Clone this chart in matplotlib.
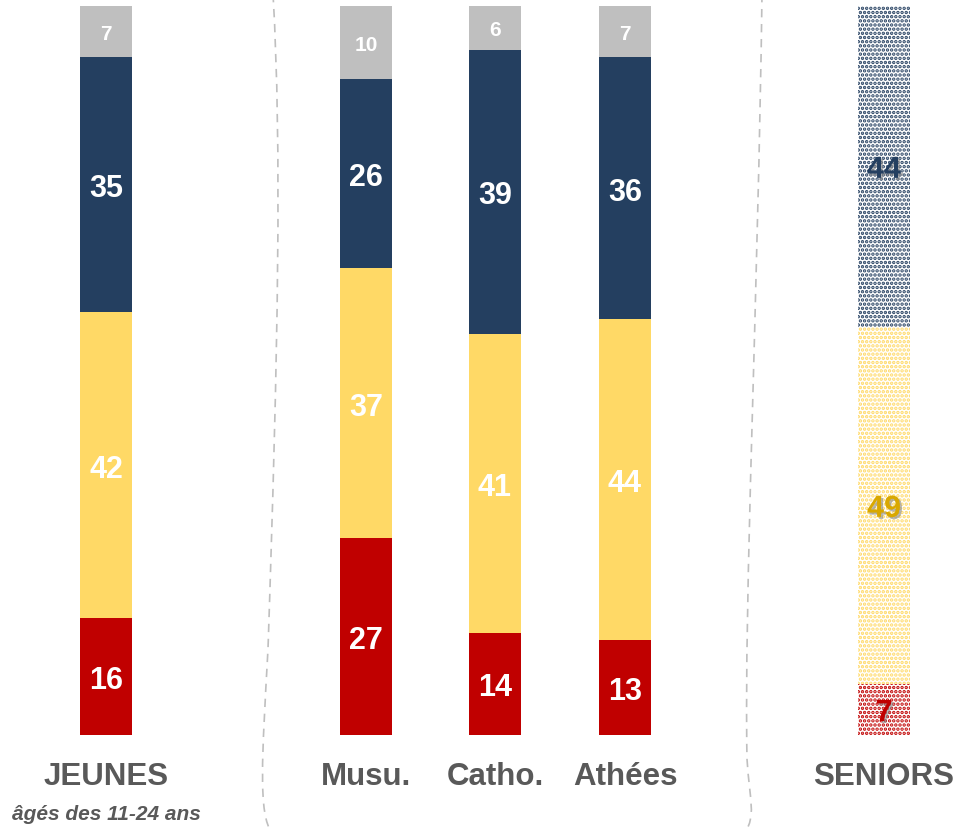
"""
Stacked 100% bars: young people by religion vs seniors.
"""

import matplotlib.pyplot as plt
import matplotlib.patheffects as pe
from matplotlib.path import Path
from matplotlib.patches import PathPatch

plt.rcParams["font.family"] = ["Liberation Sans", "DejaVu Sans"]
plt.rcParams["hatch.linewidth"] = 1.7

RED = "#C00000"
YELLOW = "#FFD966"
NAVY = "#243F60"
GREY = "#BFBFBF"
LABEL = "#595959"

groups = ["JEUNES", "Musu.", "Catho.", "Athées", "SENIORS"]
# segments from bottom to top
red_vals = [16, 27, 14, 13, 7]
yellow_vals = [42, 37, 41, 44, 49]
navy_vals = [35, 26, 39, 36, 44]
grey_vals = [7, 10, 6, 7, 0]

subtitle = "âgés des 11-24 ans"

W, H = 974, 829
fig = plt.figure(figsize=(W / 100, H / 100), dpi=100)
ax = fig.add_axes([0, 93 / H, 1, 729 / H])
ax.set_xlim(0, W)
ax.set_ylim(0, 100)
ax.axis("off")

xpos = [106, 366, 495, 625, 884]
width = 52
px = 7.29  # pixels per percent

series = [
    (red_vals, RED, "white", 22, "#C00000"),
    (yellow_vals, YELLOW, "white", 22, "#D9A800"),
    (navy_vals, NAVY, "white", 22, NAVY),
    (grey_vals, GREY, "white", 15, GREY),
]

for i, (x, name) in enumerate(zip(xpos, groups)):
    bottom = 0
    seniors = name == "SENIORS"
    for vals, color, tcol, fs, scol in series:
        v = vals[i]
        if v == 0:
            continue
        if seniors:
            ax.bar(x, v, width, bottom=bottom, color="white", edgecolor=color,
                   linewidth=0, hatch="....")
            ax.text(x, bottom + v / 2, str(v), ha="center", va="center_baseline",
                    fontsize=fs, fontweight="bold", color=scol,
                    path_effects=[pe.withSimplePatchShadow(offset=(1.5, -1.5),
                                                           shadow_rgbFace="#888888",
                                                           alpha=0.6)])
        else:
            ax.bar(x, v, width, bottom=bottom, color=color, linewidth=0)
            ax.text(x, bottom + v / 2, str(v), ha="center", va="center_baseline",
                    fontsize=fs, fontweight="bold", color=tcol)
        bottom += v
    ax.text(x, -41 / px, name, ha="center", va="center", fontsize=22.5,
            fontweight="bold", color=LABEL, clip_on=False)

ax.text(xpos[0], -79 / px, subtitle, ha="center", va="center", fontsize=15,
        fontweight="bold", fontstyle="italic", color=LABEL, clip_on=False)


# dashed bracket around the religion group (pixel coords from top-left)
def fig_pts(pts):
    return [(x / W, 1 - y / H) for x, y in pts]


C4 = Path.CURVE4
left = fig_pts([(273, -5), (282, 150), (278, 350), (268, 650),
                (262, 760), (258, 815), (272, 834)])
right = fig_pts([(762, -5), (758, 300), (744, 600), (747, 760),
                 (750, 805), (756, 815), (745, 834)])
codes = [Path.MOVETO, C4, C4, C4, C4, C4, C4]
for pts in (left, right):
    fig.add_artist(PathPatch(Path(pts, codes), fill=False, edgecolor=GREY,
                             linewidth=1.2, linestyle=(0, (5, 4)),
                             transform=fig.transFigure))

fig.savefig("out.png", dpi=100)
